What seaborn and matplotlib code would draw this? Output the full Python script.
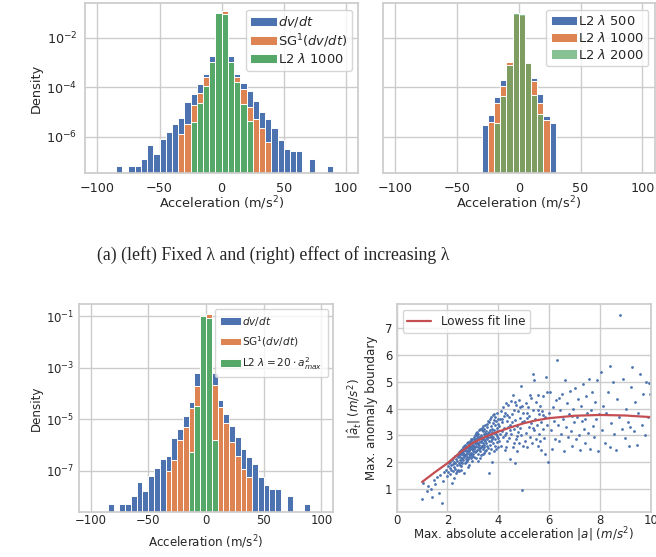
import numpy as np
import pandas as pd
import seaborn as sns
import matplotlib.pyplot as plt

sns.set_theme(style="whitegrid")

nan = np.nan

# bin edges of the acceleration histograms (m/s^2)
edges_wide = list(range(-85, 95, 5))
edges_narrow = list(range(-30, 35, 5))

# log10(density) per bin (nan = empty bin)
# top left: fixed lambda
dvdt_top = [-7.19, nan, -7.19, -7.19, -6.89, -6.35, -6.70, -6.11, -5.80, -5.47,
            -5.26, -4.60, -4.26, -3.86, -3.48, -2.74, -1.05, -0.95, -2.74, -3.47,
            -3.83, -4.14, -4.56, -5.02, -5.30, -5.64, -6.15, -6.50, -6.59, -6.59,
            nan, -6.90, nan, nan, -7.19]
sg_top = [nan] * 10 + [-5.91, -5.50, -4.71, -4.22, -3.60, -3.00, -1.03, -0.92, -3.00, -3.58,
                       -4.09, -4.79, -5.30, -5.66, -6.20] + [nan] * 10
l2_top = [nan] * 12 + [-5.39, -4.65, -3.94, -3.00, -1.02, -1.06, -3.00, -3.78, -4.67, -5.35] + [nan] * 13

# top right: increasing lambda
l2_500 = [-5.52, -5.14, -4.38, -3.71, -3.01, -1.03, -1.07, -3.00, -3.63, -4.26, -5.17, -5.45]
l2_1000 = [nan, -5.39, -4.65, -3.94, -3.00, -1.03, -1.07, -2.98, -3.74, -4.64, -5.33, nan]
l2_2000 = [nan, nan, -5.46, -4.34, -3.10, -1.02, -1.06, -3.04, -4.32, -5.08, nan, nan]

# bottom left: lambda scaled with a_max
dvdt_bot = [-8.28, nan, -8.28, -8.28, -7.98, -7.44, -7.80, -7.19, -6.88, -6.56,
            -6.42, -5.72, -5.38, -4.89, -4.32, -3.21, -1.05, -0.95, -3.19, -4.26,
            -4.81, -5.28, -5.68, -6.15, -6.46, -6.72, -7.23, -7.57, -7.69, -7.69,
            nan, -7.98, nan, nan, -8.28]
sg_bot = [nan] * 10 + [-7.00, -6.60, -5.82, -5.32, -4.58, -3.70, -1.02, -0.92, -3.66, -4.52,
                       -5.16, -5.88, -6.41, -6.95, -7.25] + [nan] * 10
l2_bot = [nan] * 14 + [-6.28, -4.49, -1.00, -1.09, -5.82] + [nan] * 16

# bottom right: max |a| vs max anomaly boundary (estimated points)
boundary_pts = [
    (1.00, 0.62), (1.05, 1.22), (1.18, 0.92), (1.25, 1.10), (1.34, 0.98), (1.38, 0.70), (1.45, 1.35), (1.52, 1.18),
    (1.60, 1.45), (1.66, 0.85), (1.72, 1.52), (1.80, 0.46), (1.84, 1.30), (1.88, 1.62), (1.93, 1.72), (1.97, 1.50),
    (2.02, 1.85), (2.04, 1.62), (2.06, 1.95), (2.08, 1.78), (2.10, 2.02), (2.11, 1.55), (2.13, 1.88), (2.15, 1.70),
    (2.16, 1.21), (2.18, 2.08), (2.20, 1.92), (2.21, 1.65), (2.23, 2.15), (2.25, 1.82), (2.26, 2.00), (2.28, 1.75),
    (2.30, 2.22), (2.31, 1.95), (2.33, 2.10), (2.34, 1.58), (2.36, 2.28), (2.37, 1.88), (2.39, 2.05), (2.40, 2.32),
    (2.41, 1.72), (2.42, 2.18), (2.44, 1.98), (2.45, 2.38), (2.46, 1.66), (2.47, 2.25), (2.48, 2.08), (2.49, 1.90),
    (2.50, 2.42), (2.38, 1.66), (2.27, 1.42),
    (2.51, 2.20), (2.52, 2.02), (2.53, 2.45), (2.54, 1.85), (2.55, 2.30), (2.56, 2.12), (2.57, 2.50), (2.58, 2.38),
    (2.59, 1.95), (2.60, 2.25), (2.61, 2.55), (2.62, 2.08), (2.63, 2.42), (2.64, 2.18), (2.65, 2.60), (2.66, 2.32),
    (2.67, 1.98), (2.68, 2.48), (2.69, 2.26), (2.70, 2.65), (2.71, 2.12), (2.72, 2.40), (2.73, 2.55), (2.74, 2.02),
    (2.75, 2.70), (2.76, 2.35), (2.77, 2.20), (2.78, 2.58), (2.79, 2.45), (2.80, 2.75), (2.81, 2.10), (2.82, 2.52),
    (2.83, 2.30), (2.84, 2.68), (2.85, 1.90), (2.86, 2.42), (2.87, 2.80), (2.88, 2.25), (2.89, 2.60), (2.90, 2.48),
    (2.91, 2.85), (2.92, 2.15), (2.93, 2.55), (2.94, 2.35), (2.95, 2.72), (2.96, 2.05), (2.97, 2.62), (2.98, 2.88),
    (2.99, 2.40), (3.00, 2.52), (2.55, 1.72), (2.62, 2.35), (2.68, 2.62), (2.72, 2.28), (2.78, 2.05), (2.82, 2.40),
    (2.88, 2.70), (2.92, 2.32), (2.96, 2.50), (2.58, 2.15), (2.66, 2.50), (2.74, 2.62), (2.84, 2.18), (2.90, 2.60),
    (2.98, 2.22), (2.52, 2.35), (2.70, 2.45), (2.86, 2.55), (2.94, 2.78), (2.64, 1.60), (2.80, 1.82),
    (3.01, 2.65), (3.02, 2.30), (3.03, 2.88), (3.04, 2.48), (3.05, 2.95), (3.06, 2.20), (3.07, 2.72), (3.08, 2.55),
    (3.09, 3.02), (3.10, 2.38), (3.11, 2.80), (3.12, 2.62), (3.13, 3.08), (3.14, 2.15), (3.15, 2.90), (3.16, 2.45),
    (3.17, 2.70), (3.18, 3.12), (3.19, 2.58), (3.20, 2.85), (3.21, 2.32), (3.22, 3.05), (3.23, 2.75), (3.24, 2.50),
    (3.25, 3.18), (3.26, 2.65), (3.27, 2.92), (3.28, 2.40), (3.29, 3.22), (3.30, 2.78), (3.31, 2.55), (3.32, 3.00),
    (3.33, 2.25), (3.34, 2.85), (3.35, 3.28), (3.36, 2.62), (3.37, 2.95), (3.38, 2.48), (3.39, 3.15), (3.40, 2.72),
    (3.41, 3.35), (3.42, 2.35), (3.43, 2.88), (3.44, 3.05), (3.45, 2.58), (3.46, 3.38), (3.47, 2.80), (3.48, 2.42),
    (3.49, 3.10), (3.50, 2.95), (3.03, 2.62), (3.08, 2.85), (3.12, 2.42), (3.17, 2.98), (3.22, 2.68), (3.27, 2.52),
    (3.32, 2.75), (3.37, 3.20), (3.42, 2.65), (3.47, 3.02), (3.06, 2.78), (3.14, 2.70), (3.24, 2.95), (3.34, 2.60),
    (3.44, 2.82), (3.19, 2.05), (3.29, 2.15), (3.39, 2.30), (3.15, 3.05), (3.45, 3.25),
    (3.51, 2.70), (3.52, 3.15), (3.53, 2.45), (3.54, 3.42), (3.55, 2.88), (3.56, 2.60), (3.57, 3.30), (3.58, 2.95),
    (3.59, 3.55), (3.60, 2.52), (3.62, 1.58), (3.61, 3.08), (3.63, 2.78), (3.64, 3.48), (3.65, 2.35), (3.66, 3.20),
    (3.67, 2.92), (3.68, 3.62), (3.69, 2.65), (3.70, 3.35), (3.71, 3.02), (3.72, 2.48), (3.73, 3.70), (3.74, 2.85),
    (3.75, 3.25), (3.76, 2.00), (3.77, 3.12), (3.78, 3.75), (3.79, 2.72), (3.80, 3.45), (3.81, 2.95), (3.82, 3.58),
    (3.83, 2.40), (3.84, 3.18), (3.85, 3.80), (3.86, 2.88), (3.87, 3.38), (3.88, 2.62), (3.89, 3.68), (3.90, 3.05),
    (3.91, 2.50), (3.92, 3.52), (3.93, 2.98), (3.94, 3.82), (3.95, 2.75), (3.96, 3.28), (3.97, 3.62), (3.98, 2.90),
    (3.99, 3.42), (4.00, 2.55), (3.55, 3.05), (3.65, 3.12), (3.75, 2.92), (3.85, 3.10), (3.95, 3.15), (3.70, 2.80),
    (4.02, 3.35), (4.04, 2.80), (4.06, 3.62), (4.08, 3.05), (4.10, 3.90), (4.12, 2.62), (4.14, 3.48), (4.16, 3.15),
    (4.18, 4.05), (4.20, 2.95), (4.22, 3.72), (4.24, 3.28), (4.26, 2.45), (4.28, 3.85), (4.30, 3.10), (4.32, 4.20),
    (4.34, 2.78), (4.36, 3.55), (4.38, 3.30), (4.40, 4.12), (4.42, 2.90), (4.44, 3.68), (4.46, 2.12), (4.48, 3.40),
    (4.50, 4.28), (4.52, 3.05), (4.54, 3.80), (4.56, 2.55), (4.58, 4.50), (4.60, 3.22), (4.62, 3.95), (4.64, 1.95),
    (4.66, 3.58), (4.68, 2.85), (4.70, 4.15), (4.72, 3.35), (4.74, 2.40), (4.76, 3.92), (4.78, 3.12), (4.80, 4.32),
    (4.82, 2.70), (4.84, 3.65), (4.86, 4.05), (4.88, 3.00), (4.90, 4.85), (4.92, 3.48), (4.94, 0.95), (4.96, 2.60),
    (4.98, 3.85), (4.15, 3.60), (4.25, 3.02), (4.35, 3.75), (4.45, 3.20), (4.55, 3.50), (4.65, 4.25), (4.75, 2.98),
    (4.85, 3.28), (4.95, 4.10), (4.30, 2.55), (4.60, 2.72),
    (5.02, 3.55), (5.05, 2.80), (5.08, 4.20), (5.10, 3.10), (5.12, 3.85), (5.15, 2.55), (5.18, 4.05), (5.20, 3.30),
    (5.22, 3.72), (5.25, 2.95), (5.28, 4.38), (5.30, 3.45), (5.32, 2.70), (5.35, 3.95), (5.38, 5.30), (5.40, 3.18),
    (5.42, 5.05), (5.45, 3.62), (5.48, 2.88), (5.50, 4.25), (5.52, 3.38), (5.55, 4.52), (5.58, 2.62), (5.60, 3.80),
    (5.62, 3.05), (5.65, 4.10), (5.68, 3.50), (5.70, 2.45), (5.72, 3.92), (5.75, 3.22), (5.78, 4.45), (5.80, 2.90),
    (5.82, 3.68), (5.85, 2.30), (5.88, 5.18), (5.90, 3.40), (5.92, 4.62), (5.95, 2.02), (5.98, 3.85), (5.15, 3.65),
    (5.35, 3.28), (5.55, 3.95), (5.75, 3.75), (5.25, 4.50), (5.65, 2.78),
    (6.02, 4.60), (6.06, 3.20), (6.10, 2.50), (6.14, 4.05), (6.18, 3.55), (6.22, 2.85), (6.26, 4.30), (6.30, 5.80),
    (6.34, 3.40), (6.38, 2.78), (6.42, 3.95), (6.46, 3.05), (6.50, 4.55), (6.54, 3.62), (6.58, 2.40), (6.62, 5.05),
    (6.66, 3.30), (6.70, 4.20), (6.74, 2.95), (6.78, 3.80), (6.82, 4.65), (6.86, 3.15), (6.90, 2.62), (6.94, 4.00),
    (6.98, 3.48), (7.02, 4.75), (7.06, 2.85), (7.10, 3.70), (7.14, 4.35), (7.18, 3.00), (7.22, 2.45), (7.26, 4.10),
    (7.30, 3.55), (7.34, 4.90), (7.38, 3.25), (7.42, 2.72), (7.46, 4.45), (7.50, 3.85), (7.54, 3.10), (7.58, 5.10),
    (7.62, 2.50), (7.66, 3.95), (7.70, 4.60), (7.74, 3.35), (7.78, 2.92), (7.82, 4.25), (7.86, 3.60), (7.90, 5.05),
    (7.94, 2.40), (7.98, 3.78), (6.40, 4.40), (6.90, 3.72), (7.40, 3.60),
    (8.03, 5.35), (8.08, 3.20), (8.14, 4.10), (8.20, 2.70), (8.26, 3.85), (8.32, 4.60), (8.38, 2.55), (8.44, 3.45),
    (8.50, 5.00), (8.56, 3.05), (8.62, 2.45), (8.68, 4.35), (8.74, 3.70), (8.80, 7.50), (8.86, 3.25), (8.92, 5.10),
    (8.98, 2.90), (9.04, 4.00), (9.10, 3.50), (9.16, 2.60), (9.22, 4.80), (9.28, 5.55), (9.34, 3.15), (9.40, 4.25),
    (9.46, 2.65), (9.52, 3.85), (9.58, 5.30), (9.64, 3.40), (9.70, 4.55), (9.76, 3.00), (9.82, 5.00), (9.88, 3.70),
    (9.94, 4.95), (9.98, 4.55), (8.40, 5.60), (9.20, 3.30),
]
lowess_x = [1.0, 1.5, 2.0, 2.5, 3.0, 3.5, 4.0, 4.5, 5.0, 5.5, 6.0, 7.0, 8.0, 9.0, 10.0]
lowess_y = [1.26, 1.62, 1.96, 2.36, 2.72, 2.95, 3.14, 3.30, 3.45, 3.56, 3.64, 3.73, 3.76, 3.74, 3.68]

blue, orange, green, red = "#4c72b0", "#dd8452", "#55a868", "#c44e52"


def hist_layer(ax, edges, log_dens, color, label, alpha=1.0):
    centers = [e + 2.5 for e in edges[:-1]]
    df = pd.DataFrame({"acc": centers, "dens": 10 ** np.array(log_dens, dtype=float)}).dropna()
    sns.histplot(data=df, x="acc", weights="dens", bins=edges, color=color, alpha=alpha,
                 edgecolor="white", linewidth=0.7, label=label, ax=ax)


def style_hist(ax, ylim, yticks, tick_fs, label_fs, xpad, ypad, xlpad, ylpad, show_y=True):
    ax.set_yscale("log")
    ax.set_xlim(-110, 110)
    ax.set_ylim(*ylim)
    ax.set_yticks(yticks)
    ax.yaxis.set_minor_locator(plt.NullLocator())
    ax.set_xticks([-100, -50, 0, 50, 100])
    ax.tick_params(axis="x", labelsize=tick_fs, length=0, pad=xpad)
    ax.tick_params(axis="y", labelsize=tick_fs, length=0, pad=ypad)
    ax.set_xlabel("Acceleration (m/s$^2$)", fontsize=label_fs, labelpad=xlpad)
    if show_y:
        ax.set_ylabel("Density", fontsize=label_fs, labelpad=ylpad)
    else:
        ax.set_ylabel("")
        ax.tick_params(labelleft=False)


fig = plt.figure(figsize=(6.56, 5.57), dpi=100)
ax1 = fig.add_axes([0.1296, 0.6889, 0.4166, 0.3052])
ax2 = fig.add_axes([0.5834, 0.6889, 0.4146, 0.3052])
ax3 = fig.add_axes([0.1204, 0.0799, 0.3872, 0.3743])
ax4 = fig.add_axes([0.6047, 0.0799, 0.3872, 0.3743])

# top left
hist_layer(ax1, edges_wide, dvdt_top, blue, "$dv/dt$")
hist_layer(ax1, edges_wide, sg_top, orange, "SG$^1$($dv/dt$)")
hist_layer(ax1, edges_wide, l2_top, green, r"L2 $\lambda$ 1000")
style_hist(ax1, (10 ** -7.48, 10 ** -0.61), [1e-2, 1e-4, 1e-6], 9.2, 9.3, 6, 5.5, 0, 2.5)
ax1.legend(loc="upper right", fontsize=9.4, handletextpad=0.1, labelspacing=0.2, borderpad=0.35)

# top right
hist_layer(ax2, edges_narrow, l2_500, blue, r"L2 $\lambda$ 500")
hist_layer(ax2, edges_narrow, l2_1000, orange, r"L2 $\lambda$ 1000")
hist_layer(ax2, edges_narrow, l2_2000, green, r"L2 $\lambda$ 2000", alpha=0.7)
style_hist(ax2, (10 ** -7.48, 10 ** -0.61), [1e-2, 1e-4, 1e-6], 9.2, 9.3, 6, 5.5, 0, 2.5, show_y=False)
ax2.legend(loc="upper right", fontsize=9.4, handletextpad=0.1, labelspacing=0.2, borderpad=0.35)

# bottom left
hist_layer(ax3, edges_wide, dvdt_bot, blue, "$dv/dt$")
hist_layer(ax3, edges_wide, sg_bot, orange, "SG$^1$($dv/dt$)")
hist_layer(ax3, edges_wide, l2_bot, green, r"L2 $\lambda = 20 \cdot a_{max}^2$")
style_hist(ax3, (10 ** -8.62, 10 ** -0.53), [1e-1, 1e-3, 1e-5, 1e-7], 8.4, 8.6, 1.2, 3.6, 4.5, 2)
ax3.legend(loc="upper right", fontsize=7.6, handletextpad=0.1, labelspacing=0.6, borderpad=0.5)

# bottom right
sx = [p[0] for p in boundary_pts]
sy = [p[1] for p in boundary_pts]
sns.scatterplot(x=sx, y=sy, s=4, color=blue, linewidth=0, ax=ax4)
sns.lineplot(x=lowess_x, y=lowess_y, color=red, lw=1.6, label="Lowess fit line", ax=ax4)
ax4.set_xlim(0, 10)
ax4.set_ylim(0.12, 7.9)
ax4.set_xticks([0, 2, 4, 6, 8, 10])
ax4.set_yticks([1, 2, 3, 4, 5, 6, 7])
ax4.tick_params(axis="x", labelsize=8.4, length=0, pad=1.2)
ax4.tick_params(axis="y", labelsize=8.4, length=0, pad=2.9)
ax4.set_xlabel("Max. absolute acceleration $|a|$ $(m/s^2)$", fontsize=8.6, labelpad=-1)
ax4.set_ylabel("$|\\hat{a}_t|$ $(m/s^2)$\nMax. anomaly boundary", fontsize=8.6, labelpad=5)
ax4.legend(loc="upper left", fontsize=8.6)

fig.text(0.416, 1 - 255 / 557, "(a) (left) Fixed λ and (right) effect of increasing λ",
         family="Liberation Serif", fontsize=12.8, ha="center", va="center")

fig.savefig("out.png", dpi=100)
